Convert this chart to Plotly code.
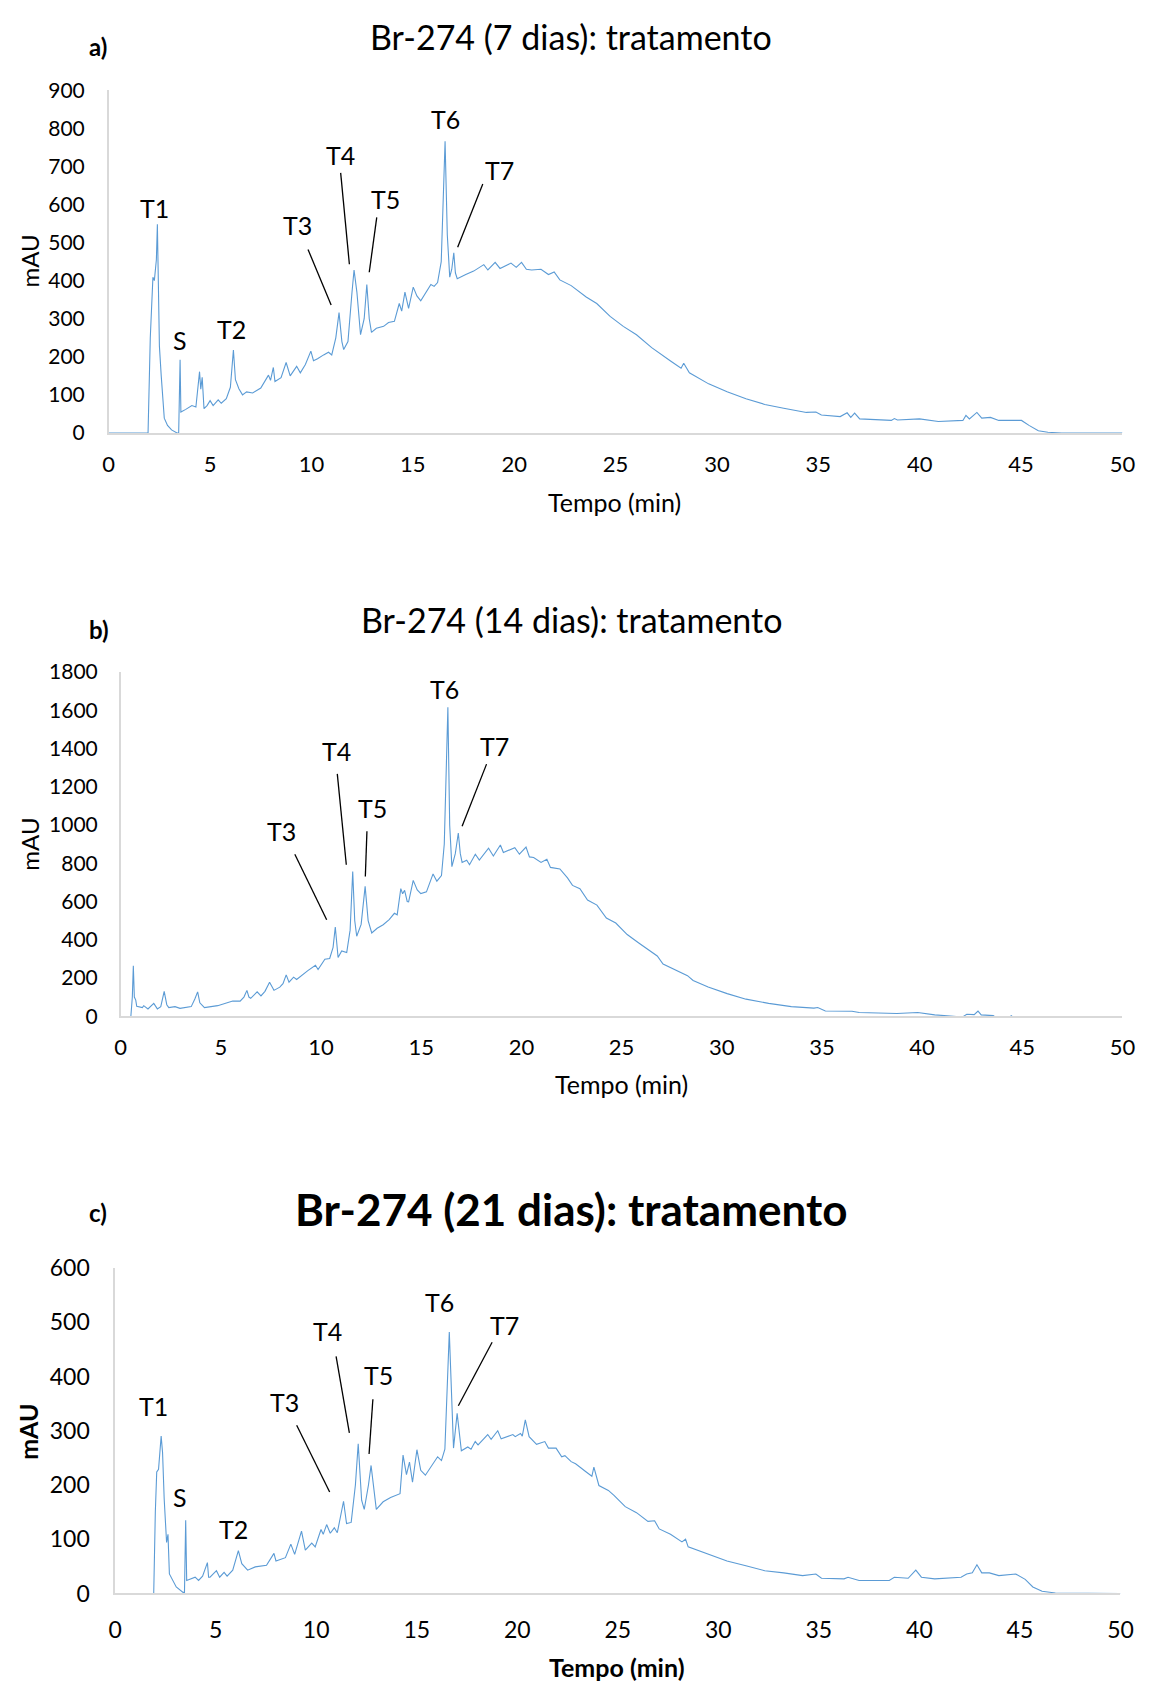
import plotly.graph_objects as go

W, H = 1162, 1695
FONT = "Lato"
BLUE = "#5B9BD5"
AXIS_GRAY = "#D9D9D9"

# ---------------- data ----------------
time_a = [0, 1.94, 2.05, 2.18, 2.25, 2.35, 2.40, 2.43, 2.5, 2.59, 2.74, 2.9, 3.1, 3.37, 3.45, 3.52, 3.56, 3.8, 4.1, 4.3,
          4.48, 4.54, 4.61, 4.7, 4.85, 5.0, 5.15, 5.4, 5.55, 5.8, 6.0, 6.15, 6.25, 6.42, 6.6, 6.8, 7.1, 7.5, 7.88, 7.98,
          8.12, 8.2, 8.5, 8.75, 8.95, 9.27, 9.45, 9.7, 9.97, 10.1, 10.3, 10.6, 10.84, 11.0, 11.2, 11.36, 11.5, 11.59, 11.8, 12.0,
          12.10, 12.24, 12.35, 12.42, 12.6, 12.73, 12.85, 12.96, 13.2, 13.56, 13.8, 14.09, 14.33, 14.45, 14.61, 14.79, 15.02, 15.2, 15.39, 15.6,
          15.89, 16.05, 16.22, 16.4, 16.59, 16.7, 16.82, 16.92, 17.02, 17.1, 17.19, 17.61, 18.0, 18.5, 18.7, 19.06, 19.3, 19.84, 20.1, 20.36,
          20.6, 20.86, 21.32, 21.69, 21.97, 22.25, 22.81, 23.55, 24.07, 24.73, 25.38, 26.03, 26.78, 27.71, 28.23, 28.36, 28.64, 29.59, 30.5, 31.43,
          32.36, 33.29, 34.41, 34.88, 35.15, 36.08, 36.42, 36.6, 36.79, 37.04, 37.95, 38.6, 38.75, 38.9, 39.99, 40.92, 42.13, 42.28, 42.45, 42.82,
          43.06, 43.49, 43.9, 45.02, 45.39, 45.85, 46.32, 47, 50]
mau_a = [0, 0, 250, 409, 400, 455, 548, 420, 228, 150, 39, 20, 8, 0, 0, 192, 55, 62, 72, 68,
         161, 115, 146, 64, 72, 85, 72, 87, 78, 90, 120, 218, 140, 116, 100, 108, 105, 118, 152, 138,
         172, 135, 145, 185, 150, 175, 158, 180, 215, 190, 195, 205, 212, 205, 250, 316, 240, 219, 240, 370,
         428, 370, 300, 258, 300, 390, 300, 264, 275, 280, 290, 293, 340, 320, 370, 327, 383, 360, 347, 365,
         390, 385, 395, 450, 766, 520, 409, 430, 473, 420, 405, 416, 425, 442, 428, 448, 432, 446, 435, 448,
         430, 428, 430, 416, 423, 402, 387, 357, 340, 306, 280, 258, 224, 189, 170, 183, 158, 129, 108, 90,
         75, 65, 54, 55, 47, 43, 53, 41, 52, 37, 34, 33, 38, 34, 37, 30, 33, 46, 37, 54,
         39, 41, 33, 33, 20, 6, 2, 0, 0]

time_b = [0.5, 0.58, 0.63, 0.68, 0.75, 0.8, 1.08, 1.15, 1.36, 1.65, 1.83, 2.0, 2.17, 2.3, 2.40, 2.71, 2.96, 3.52, 3.7, 3.84,
          3.95, 4.18, 4.84, 5.59, 5.96, 6.15, 6.30, 6.4, 6.49, 6.81, 7.0, 7.2, 7.43, 7.55, 7.65, 7.94, 8.1, 8.26, 8.40, 8.63,
          8.78, 9.34, 9.5, 9.72, 9.85, 10.19, 10.43, 10.6, 10.71, 10.78, 10.85, 11.03, 11.28, 11.45, 11.58, 11.68, 11.78, 12.0, 12.20, 12.35,
          12.53, 12.8, 13.10, 13.4, 13.66, 13.8, 13.98, 14.07, 14.17, 14.3, 14.37, 14.6, 14.8, 14.98, 15.26, 15.59, 15.78, 16.01, 16.15, 16.33,
          16.42, 16.53, 16.7, 16.85, 16.95, 17.04, 17.27, 17.41, 17.70, 17.9, 18.36, 18.6, 18.95, 19.1, 19.67, 19.9, 20.23, 20.4, 20.61, 20.98,
          21.27, 21.45, 21.92, 22.3, 22.55, 22.92, 23.3, 23.77, 24.24, 24.71, 25.28, 25.84, 26.41, 26.78, 27.07, 27.63, 28.29, 28.57, 29.32, 30.27,
          31.21, 32.34, 33.47, 34.6, 34.79, 35.17, 36.29, 36.5, 36.86, 38.74, 39.78, 40.63, 41.56, 42.0, 42.23, 42.6, 42.79, 42.95, 43.55, 43.7,
          44.3, 44.45, 44.6, 46, 50]
mau_b = [-10, 100, 264, 100, 84, 52, 45, 55, 38, 67, 38, 50, 130, 60, 45, 50, 41, 50, 90, 127,
         70, 45, 55, 79, 79, 100, 135, 100, 93, 127, 106, 130, 178, 150, 135, 152, 170, 216, 178, 204,
         192, 238, 250, 266, 244, 298, 302, 360, 466, 380, 307, 341, 333, 450, 756, 500, 418, 480, 679, 500,
         435, 460, 478, 505, 538, 530, 667, 640, 658, 600, 598, 710, 660, 641, 650, 744, 706, 735, 900, 1615,
         1000, 782, 850, 958, 850, 804, 816, 792, 847, 816, 878, 838, 895, 856, 881, 847, 884, 833, 830, 804,
         821, 778, 770, 723, 684, 667, 607, 581, 513, 487, 427, 384, 341, 315, 273, 243, 212, 187, 153, 118,
         89, 67, 50, 42, 45, 27, 24, 26, 19, 14, 19, 7, 0, -5, 10, 8, 27, 7, 3, -8,
         -10, 2, -10, -15, -15]

time_c = [0, 1.92, 2.0, 2.07, 2.16, 2.29, 2.36, 2.44, 2.56, 2.63, 2.70, 3.04, 3.38, 3.45, 3.51, 3.56, 3.98, 4.15, 4.35, 4.59,
          4.65, 4.72, 5.04, 5.2, 5.42, 5.57, 5.85, 6.0, 6.13, 6.3, 6.59, 6.97, 7.53, 7.90, 8.0, 8.47, 8.74, 8.93, 9.27, 9.46,
          9.78, 9.95, 10.24, 10.35, 10.52, 10.7, 10.9, 11.05, 11.36, 11.51, 11.74, 11.95, 12.09, 12.26, 12.39, 12.6, 12.73, 12.99, 13.33, 13.70,
          14.17, 14.32, 14.49, 14.64, 14.79, 15.01, 15.2, 15.43, 16.04, 16.23, 16.4, 16.62, 16.75, 16.83, 17.01, 17.22, 17.54, 17.7, 17.91, 18.05,
          18.53, 18.7, 19.03, 19.2, 19.78, 19.9, 20.16, 20.25, 20.40, 20.59, 20.96, 21.37, 21.55, 21.93, 22.21, 22.37, 22.68, 22.9, 23.43, 23.71,
          23.81, 24.06, 24.53, 24.81, 25.37, 25.93, 26.5, 26.83, 27.06, 27.62, 28.19, 28.37, 28.5, 29.5, 30.43, 31.37, 32.31, 33.25, 34.19, 34.85,
          35.13, 36.25, 36.45, 37.0, 38.5, 38.75, 39.44, 39.82, 40.1, 40.76, 42.07, 42.35, 42.63, 42.86, 43.1, 43.48, 43.95, 44.79, 45.26, 45.64,
          46.1, 46.76, 50]
mau_c = [0, 0, 150, 224, 229, 290, 260, 175, 94, 109, 36, 12, 2, 2, 135, 24, 30, 24, 32, 57,
         30, 30, 42, 30, 39, 32, 43, 60, 79, 55, 43, 49, 52, 74, 60, 66, 91, 72, 115, 80,
         93, 86, 118, 109, 127, 111, 121, 112, 170, 129, 131, 200, 276, 172, 155, 200, 236, 155, 169, 177,
         184, 255, 219, 242, 205, 265, 227, 218, 252, 245, 266, 482, 330, 268, 332, 263, 270, 266, 280, 274,
         293, 284, 300, 285, 293, 289, 295, 290, 320, 289, 275, 280, 268, 268, 252, 254, 243, 239, 224, 216,
         233, 199, 190, 181, 160, 149, 133, 134, 119, 109, 95, 100, 86, 73, 60, 51, 42, 38, 33, 36,
         28, 27, 30, 24, 24, 30, 28, 43, 30, 27, 30, 36, 38, 53, 38, 38, 33, 36, 26, 12,
         4, 1, 0]

x_ticks = [0, 5, 10, 15, 20, 25, 30, 35, 40, 45, 50]
y_ticks_a = [0, 100, 200, 300, 400, 500, 600, 700, 800, 900]
y_ticks_b = [0, 200, 400, 600, 800, 1000, 1200, 1400, 1600, 1800]
y_ticks_c = [0, 100, 200, 300, 400, 500, 600]

titles = ["Br-274 (7 dias): tratamento", "Br-274 (14 dias): tratamento", "Br-274 (21 dias): tratamento"]
panel_tags = ["a)", "b)", "c)"]

# peak labels: (text, label_x, label_y) in data units
labels_a = [("T1", 2.27, 591), ("S", 3.51, 245), ("T2", 6.06, 273), ("T3", 9.32, 545), ("T4", 11.44, 729),
            ("T5", 13.66, 614), ("T6", 16.59, 824), ("T7", 19.25, 691)]
leaders_a = [(9.83, 482, 10.97, 336), (11.44, 683, 11.87, 443), (13.22, 566, 12.85, 422), (18.45, 654, 17.21, 488)]

labels_b = [("T3", 8.03, 970), ("T4", 10.79, 1387), ("T5", 12.57, 1090), ("T6", 16.16, 1709), ("T7", 18.64, 1413)]
leaders_b = [(8.69, 847, 10.28, 504), (10.81, 1267, 11.26, 792), (12.29, 967, 12.21, 730), (18.26, 1318, 17.04, 993)]

labels_c = [("T1", 1.92, 346), ("S", 3.23, 178), ("T2", 5.90, 118), ("T3", 8.43, 353), ("T4", 10.58, 483),
            ("T5", 13.10, 403), ("T6", 16.13, 538), ("T7", 19.37, 495)]
leaders_c = [(9.03, 310, 10.67, 187), (10.99, 437, 11.65, 296), (12.82, 358, 12.63, 257), (18.75, 463, 17.07, 346)]

# ---------------- layout (pixel geometry) ----------------
panels = [
    dict(t=time_a, v=mau_a, yt=y_ticks_a, yr=[0, 900], x0=103.5, x1=1135, ytop=76.5, ybot=425,
         labels=labels_a, leaders=leaders_a, bold=False, tick=21, xtick=22, ttl=34, lab=25, axt=25, mau=24,
         xlen=11, ylen=18, title_y=22, tag_xy=(93, 32), mau_xy=(23, 250), tempo_xy=(618, 495)),
    dict(t=time_b, v=mau_b, yt=y_ticks_b, yr=[0, 1800], x0=115.7, x1=1135, ytop=668, ybot=1018,
         labels=labels_b, leaders=leaders_b, bold=False, tick=21, xtick=22, ttl=34, lab=25, axt=25, mau=24,
         xlen=11, ylen=17, title_y=615, tag_xy=(94, 625), mau_xy=(22, 843), tempo_xy=(625, 1087)),
    dict(t=time_c, v=mau_c, yt=y_ticks_c, yr=[0, 600], x0=110, x1=1133, ytop=1274, ybot=1605,
         labels=labels_c, leaders=leaders_c, bold=True, tick=23, xtick=23, ttl=44, lab=25, axt=25, mau=25,
         xlen=15, ylen=19, title_y=1214, tag_xy=(93, 1218), mau_xy=(22, 1441), tempo_xy=(621, 1680)),
]

def px_x(p):
    return p / W

def px_y(p):
    return 1 - p / H

fig = go.Figure()
annotations = []
shapes = []
layout = dict(width=W, height=H, margin=dict(l=0, r=0, t=0, b=0), paper_bgcolor="white",
              plot_bgcolor="white", showlegend=False, font=dict(family=FONT, color="black"))

for i, p in enumerate(panels):
    n = "" if i == 0 else str(i + 1)
    xa, ya = "x" + n, "y" + n
    fig.add_trace(go.Scatter(x=p["t"], y=p["v"], mode="lines", line=dict(color=BLUE, width=1.1),
                             xaxis=xa, yaxis=ya, hoverinfo="skip", cliponaxis=True))
    layout["xaxis" + n] = dict(domain=[px_x(p["x0"]), px_x(p["x1"])], range=[0, 50], anchor=ya,
                               tickvals=x_ticks, showgrid=False, zeroline=False, showline=True,
                               linecolor=AXIS_GRAY, linewidth=1.5, ticks="outside", ticklen=p["xlen"],
                               tickcolor="rgba(0,0,0,0)", tickfont=dict(size=p["xtick"], family=FONT, color="black"))
    layout["yaxis" + n] = dict(domain=[px_y(p["ybot"]), px_y(p["ytop"])], range=p["yr"], anchor=xa,
                               tickvals=p["yt"], showgrid=False, zeroline=False, showline=True,
                               linecolor=AXIS_GRAY, linewidth=1.5, ticks="outside", ticklen=p["ylen"],
                               tickcolor="rgba(0,0,0,0)", tickfont=dict(size=p["tick"], family=FONT, color="black"))
    b0, b1 = ("<b>", "</b>") if p["bold"] else ("", "")
    annotations.append(dict(text=b0 + titles[i] + b1, x=px_x(574), y=px_y(p["title_y"]), xref="paper", yref="paper",
                            showarrow=False, xanchor="center", yanchor="middle",
                            font=dict(size=p["ttl"], family=FONT, color="black")))
    annotations.append(dict(text="<b>" + panel_tags[i] + "</b>", x=px_x(p["tag_xy"][0]), y=px_y(p["tag_xy"][1]),
                            xref="paper", yref="paper", showarrow=False, xanchor="center", yanchor="middle",
                            font=dict(size=24, family=FONT, color="black")))
    annotations.append(dict(text=b0 + "mAU" + b1, x=px_x(p["mau_xy"][0]), y=px_y(p["mau_xy"][1]),
                            xref="paper", yref="paper", showarrow=False, textangle=-90, xanchor="center",
                            yanchor="middle", font=dict(size=p["mau"], family=FONT, color="black")))
    annotations.append(dict(text=b0 + "Tempo (min)" + b1, x=px_x(p["tempo_xy"][0]), y=px_y(p["tempo_xy"][1]),
                            xref="paper", yref="paper", showarrow=False, xanchor="center", yanchor="middle",
                            font=dict(size=p["axt"], family=FONT, color="black")))
    for txt, lx, ly in p["labels"]:
        annotations.append(dict(text=txt, x=lx, y=ly, xref=xa, yref=ya, showarrow=False,
                                xanchor="center", yanchor="middle",
                                font=dict(size=p["lab"], family=FONT, color="black")))
    for x0, y0, x1, y1 in p["leaders"]:
        shapes.append(dict(type="line", xref=xa, yref=ya, x0=x0, y0=y0, x1=x1, y1=y1,
                           line=dict(color="black", width=1.3)))

layout["annotations"] = annotations
layout["shapes"] = shapes
fig.update_layout(**layout)
fig.write_html("out.html")
